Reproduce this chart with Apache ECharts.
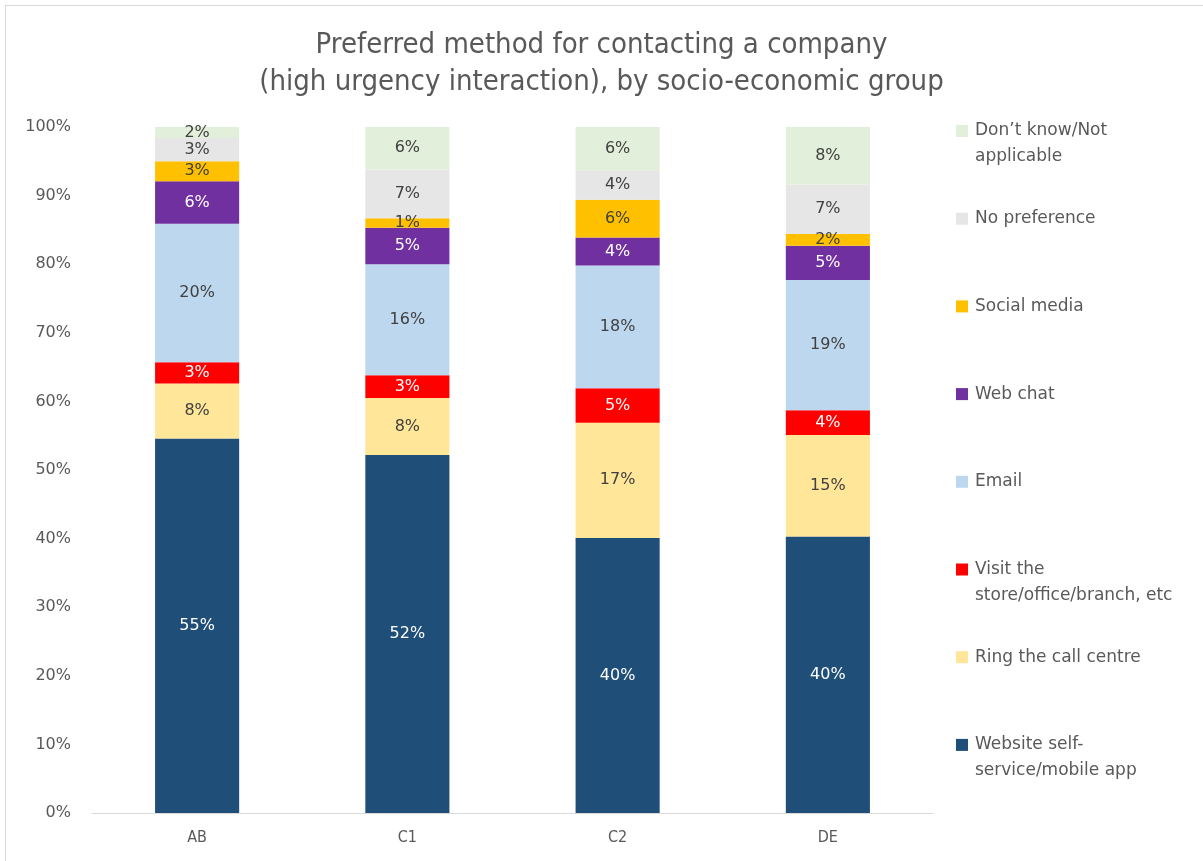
<!DOCTYPE html>
<html>
<head>
<meta charset="utf-8">
<script src="https://cdn.jsdelivr.net/npm/echarts@6/dist/echarts.min.js"></script>
<style>
  html, body { margin: 0; padding: 0; background: #ffffff; }
  #chart { position: absolute; left: 0; top: 0; width: 1203px; height: 861px; }
  #frame { position: absolute; left: 5px; top: 5px; width: 1260px; height: 920px;
           border: 1px solid #d9d9d9; pointer-events: none; }
</style>
</head>
<body>
<div id="chart"></div>
<div id="frame"></div>
<script>
// Socio-economic groups
const categories = ['AB', 'C1', 'C2', 'DE'];

// Share of respondents (%) per preferred contact method
const website   = [54.6, 52.2, 40.1, 40.3];
const callCentre = [8.0, 8.3, 16.8, 14.8];
const visit     = [3.1, 3.3, 5.0, 3.6];
const email     = [20.2, 16.2, 17.9, 19.0];
const webChat   = [6.2, 5.3, 4.1, 5.0];
const social    = [2.9, 1.4, 5.5, 1.7];
const noPref    = [3.4, 7.1, 4.3, 7.2];
const dontKnow  = [1.6, 6.2, 6.3, 8.4];

const yTicks = [0, 10, 20, 30, 40, 50, 60, 70, 80, 90, 100];

const seriesDefs = [
  { name: 'Website self-service/mobile app', legend: 'Website self-\nservice/mobile app', data: website, color: '#1F4E79', label: '#ffffff' },
  { name: 'Ring the call centre', legend: 'Ring the call centre', data: callCentre, color: '#FFE699', label: '#404040' },
  { name: 'Visit the store/office/branch, etc', legend: 'Visit the\nstore/office/branch, etc', data: visit, color: '#FF0000', label: '#ffffff' },
  { name: 'Email', legend: 'Email', data: email, color: '#BDD7EE', label: '#404040' },
  { name: 'Web chat', legend: 'Web chat', data: webChat, color: '#7030A0', label: '#ffffff' },
  { name: 'Social media', legend: 'Social media', data: social, color: '#FFC000', label: '#404040' },
  { name: 'No preference', legend: 'No preference', data: noPref, color: '#E6E6E6', label: '#404040' },
  { name: 'Don\u2019t know/Not applicable', legend: 'Don\u2019t know/Not\napplicable', data: dontKnow, color: '#E2EFDA', label: '#404040' }
];

const legendText = {};
seriesDefs.forEach(s => {
  // three-line block: blank line, first line, second line (or blank),
  // so the swatch sits level with the first line of text
  const parts = s.legend.split('\n');
  legendText[s.name] = ' \n' + parts[0] + '\n' + (parts[1] || ' ');
});

const narrow = "'Liberation Sans Narrow', 'DejaVu Sans Condensed', sans-serif";
const body = "'DejaVu Sans', sans-serif";

const chart = echarts.init(document.getElementById('chart'), null, { renderer: 'canvas' });

chart.setOption({
  backgroundColor: '#ffffff',
  animation: false,
  title: {
    text: 'Preferred method for contacting a company\n(high urgency interaction), by socio-economic group',
    left: 'center',
    top: 22,
    textStyle: {
      fontFamily: narrow,
      fontSize: 29,
      fontWeight: 'normal',
      color: '#595959',
      lineHeight: 37
    }
  },
  legend: {
    orient: 'vertical',
    left: 956,
    top: 92,
    itemWidth: 12,
    itemHeight: 12,
    itemGap: 9.7,
    icon: 'rect',
    padding: 0,
    data: seriesDefs.map(s => s.name).reverse(),
    formatter: name => legendText[name],
    textStyle: {
      fontFamily: body,
      fontSize: 17,
      color: '#595959',
      lineHeight: 26,
      padding: [0, 0, 0, 2]
    }
  },
  grid: {
    left: 92,
    right: 270,
    top: 127,
    bottom: 48,
    containLabel: false
  },
  xAxis: {
    type: 'category',
    data: categories,
    axisLine: { show: true, lineStyle: { color: '#d9d9d9', width: 1 } },
    axisTick: { show: false },
    axisLabel: {
      margin: 17,
      fontFamily: narrow,
      fontSize: 16,
      color: '#595959'
    }
  },
  yAxis: {
    type: 'value',
    min: yTicks[0],
    max: yTicks[yTicks.length - 1],
    interval: yTicks[1] - yTicks[0],
    axisLine: { show: false },
    axisTick: { show: false },
    splitLine: { show: false },
    axisLabel: {
      margin: 21,
      fontFamily: body,
      fontSize: 16,
      color: '#595959',
      formatter: '{value}%'
    }
  },
  series: seriesDefs.map(s => ({
    name: s.name,
    type: 'bar',
    stack: 'total',
    barCategoryGap: '60%',
    data: s.data,
    itemStyle: { color: s.color },
    label: {
      show: true,
      position: 'inside',
      fontFamily: body,
      fontSize: 16,
      color: s.label,
      formatter: p => Math.round(p.value) + '%'
    }
  }))
});
</script>
</body>
</html>
